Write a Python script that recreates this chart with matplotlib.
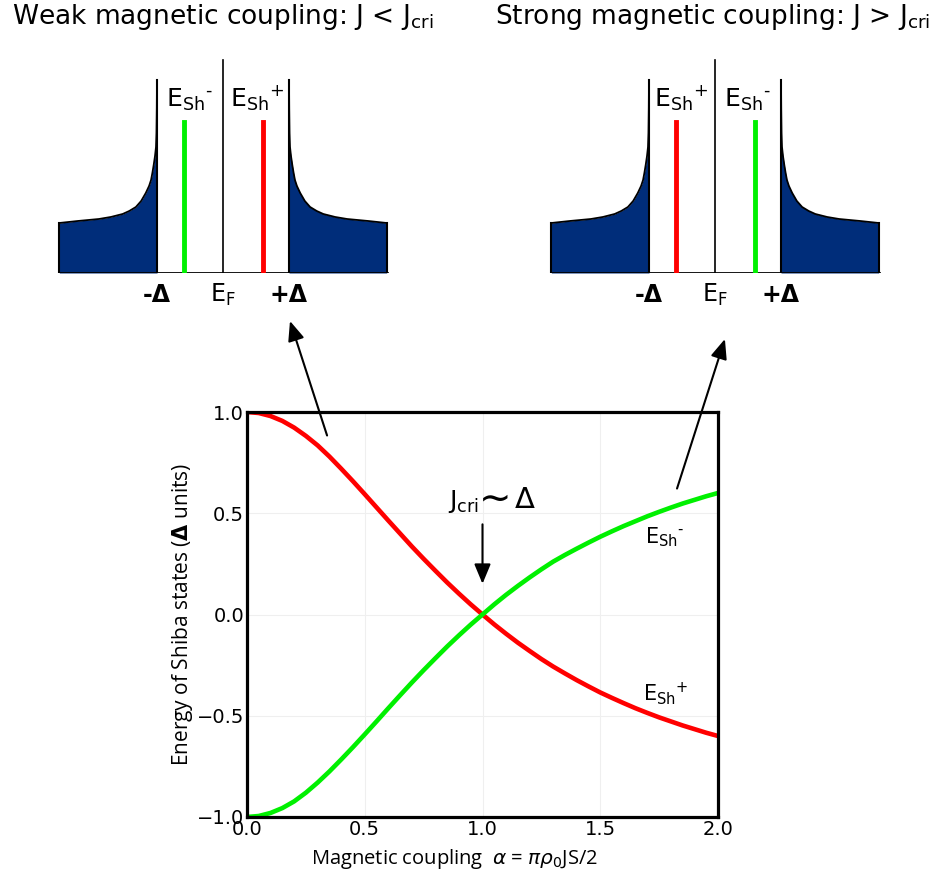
import matplotlib
matplotlib.use('Agg')
import matplotlib.pyplot as plt
from matplotlib.patches import ConnectionPatch

plt.rcParams['font.family'] = ['DejaVu Sans']
plt.rcParams['mathtext.fontset'] = 'dejavusans'

# Shiba state energies vs magnetic coupling alpha (in units of Delta)
alpha = [0.00, 0.05, 0.10, 0.15, 0.20, 0.25, 0.30, 0.35, 0.40, 0.45,
         0.50, 0.55, 0.60, 0.65, 0.70, 0.75, 0.80, 0.85, 0.90, 0.95,
         1.00, 1.05, 1.10, 1.15, 1.20, 1.25, 1.30, 1.35, 1.40, 1.45,
         1.50, 1.55, 1.60, 1.65, 1.70, 1.75, 1.80, 1.85, 1.90, 1.95, 2.00]
e_plus = [1.000, 0.995, 0.980, 0.956, 0.923, 0.882, 0.835, 0.780, 0.720, 0.658,
          0.594, 0.529, 0.464, 0.400, 0.336, 0.275, 0.216, 0.158, 0.103, 0.050,
          0.000, -0.049, -0.095, -0.139, -0.180, -0.220, -0.257, -0.291, -0.324, -0.355,
          -0.385, -0.412, -0.438, -0.463, -0.486, -0.508, -0.528, -0.548, -0.566, -0.584, -0.600]
e_minus = [-1.000, -0.995, -0.980, -0.956, -0.923, -0.880, -0.830, -0.775, -0.716, -0.655,
           -0.592, -0.528, -0.463, -0.399, -0.336, -0.275, -0.216, -0.158, -0.103, -0.050,
           0.000, 0.050, 0.097, 0.141, 0.183, 0.223, 0.261, 0.294, 0.325, 0.355,
           0.384, 0.411, 0.437, 0.461, 0.485, 0.507, 0.528, 0.548, 0.566, 0.584, 0.600]

# schematic density of states outside the gap (energy in Delta, height in px)
dos_e = [1.0, 1.003, 1.008, 1.015, 1.03, 1.05, 1.07, 1.09, 1.12, 1.17,
         1.24, 1.32, 1.42, 1.52, 1.70, 1.88, 2.20, 2.48]
dos_h = [193, 165, 140, 126, 117, 108, 100, 93, 87, 80,
         72, 66, 62, 59, 56, 54, 52, 50]
dos_fill_top = 124
ef_height = 213
shiba_height = 151
# Shiba level positions in the two regimes
shiba_weak = {'minus': -0.59, 'plus': 0.60}
shiba_strong = {'minus': 0.60, 'plus': -0.59}

RED = '#ff0000'
GREEN = '#00f000'
NAVY = '#002d7a'
SH_MINUS = 'E$_{\\mathregular{Sh}}$$^{\\mathregular{\u2010}}$'
SH_PLUS = r'E$_{\mathregular{Sh}}$$^{\mathregular{+}}$'
HEAD = '-|>,head_length=0.6,head_width=0.25'

W, H = 935, 873
fig = plt.figure(figsize=(W / 100, H / 100), dpi=100)


def frac(x0, y0, w, h):
    return [x0 / W, 1 - (y0 + h) / H, w / W, h / H]


def draw_gap(ax, levels, labels):
    for sgn in (-1, 1):
        xs = [sgn * e for e in dos_e]
        ys = [min(h, dos_fill_top) for h in dos_h]
        ax.fill_between(xs, 0, ys, color=NAVY, lw=0)
        ax.plot(xs, dos_h, color='black', lw=1.3)
        ax.plot([sgn * dos_e[0]] * 2, [0, dos_h[0]], color='black', lw=1.5)
        ax.plot([sgn * dos_e[-1]] * 2, [0, dos_h[-1]], color='black', lw=1.5)
    ax.plot([0, 0], [0, ef_height], color='black', lw=1.2)
    ax.plot([-dos_e[-1], dos_e[-1]], [0, 0], color='black', lw=2)
    ax.plot([levels['minus']] * 2, [0, shiba_height], color=GREEN, lw=3.5)
    ax.plot([levels['plus']] * 2, [0, shiba_height], color=RED, lw=3.5)
    for txt, xpos in labels:
        ax.text(xpos, 166, txt, fontsize=18, ha='left', va='baseline')
    ax.text(-1.0, -22, '-\u0394', fontsize=17, fontweight='bold', ha='center', va='center')
    ax.text(1.0, -22, '+\u0394', fontsize=17, fontweight='bold', ha='center', va='center')
    ax.text(0.0, -22, r'E$_{\mathregular{F}}$', fontsize=17, ha='center', va='center')
    ax.set_xlim(-2.6, 2.6)
    ax.set_ylim(0, 230)
    ax.axis('off')


ax_weak = fig.add_axes(frac(51.4, 43, 343.2, 230))
draw_gap(ax_weak, shiba_weak, [(SH_MINUS, -0.87), (SH_PLUS, 0.11)])
ax_strong = fig.add_axes(frac(543.4, 43, 343.2, 230))
draw_gap(ax_strong, shiba_strong, [(SH_PLUS, -0.93), (SH_MINUS, 0.14)])

fig.text(12 / W, 1 - 17 / H, r'Weak magnetic coupling: J < J$_{\mathregular{cri}}$',
         fontsize=19, ha='left', va='center')
fig.text(495 / W, 1 - 17 / H, r'Strong magnetic coupling: J > J$_{\mathregular{cri}}$',
         fontsize=19, ha='left', va='center')

# main plot
ax = fig.add_axes(frac(247, 412, 471, 405))
ax.plot(alpha, e_plus, color=RED, lw=3.3, solid_capstyle='butt')
ax.plot(alpha, e_minus, color=GREEN, lw=3.3, solid_capstyle='butt')
ax.set_xlim(0, 2)
ax.set_ylim(-1, 1)
ax.set_xticks([0, 0.5, 1.0, 1.5, 2.0])
ax.set_yticks([-1.0, -0.5, 0.0, 0.5, 1.0])
ax.tick_params(length=0, labelsize=14, pad=2)
ax.grid(color='#efefef', lw=0.8)
for sp in ax.spines.values():
    sp.set_linewidth(2.3)
ax.set_xlabel(r'Magnetic coupling  $\alpha$ = $\pi\rho_0$JS/2', fontsize=14.5,
              family=['Open Sans', 'DejaVu Sans'])
ax.xaxis.set_label_coords(0.44, -0.075)
ax.set_ylabel(r'Energy of Shiba states ($\mathbf{\Delta}$ units)', fontsize=15,
              family=['Open Sans', 'DejaVu Sans'], labelpad=1)

ax.text(1.69, 0.35, SH_MINUS, fontsize=15, ha='left', va='baseline')
ax.text(1.68, -0.425, SH_PLUS, fontsize=15, ha='left', va='baseline')
# J_cri ~ Delta, with an enlarged tilde
ax.text(0.854, 0.528, r'J$_{\mathregular{cri}}$', fontsize=18, ha='left', va='baseline')
ax.text(1.052, 0.573, '\u223c', fontsize=28, ha='center', va='center')
ax.text(1.135, 0.528, '\u0394', fontsize=21, ha='left', va='baseline')
ax.annotate('', xy=(1.0, 0.138), xytext=(1.0, 0.459),
            arrowprops=dict(arrowstyle=HEAD, color='black', lw=1.5, mutation_scale=20))

# arrows linking the curves to the gap sketches
for xyA, target, xyB in [((0.34, 0.884), ax_weak, (1.015, -48)),
                         ((1.826, 0.622), ax_strong, (0.15, -66))]:
    con = ConnectionPatch(xyA=xyA, coordsA=ax.transData, xyB=xyB, coordsB=target.transData,
                          arrowstyle=HEAD, color='black', lw=1.5, mutation_scale=20)
    fig.add_artist(con)

fig.savefig('out.png', dpi=100)
